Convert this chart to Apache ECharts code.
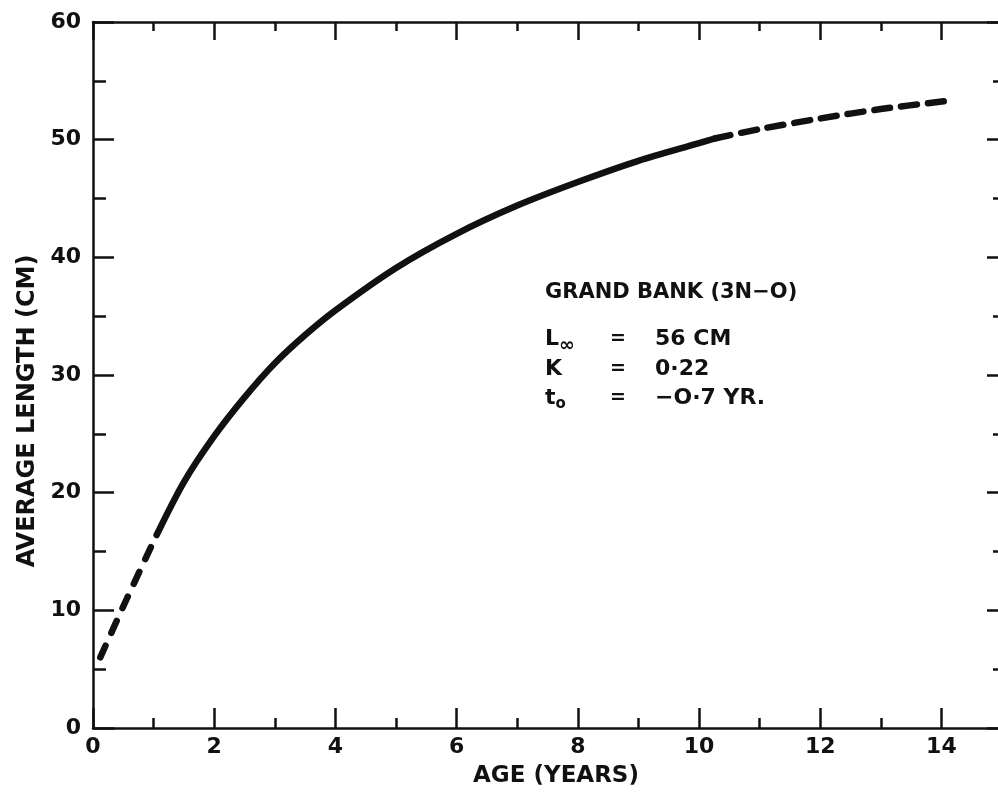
<!DOCTYPE html>
<html>
<head>
<meta charset="utf-8">
<script src="https://cdn.jsdelivr.net/npm/echarts@6/dist/echarts.min.js"></script>
<style>
  html, body { margin: 0; padding: 0; background: #fff; }
  #chart { width: 998px; height: 792px; }
</style>
</head>
<body>
<div id="chart"></div>
<script>
// growth curve, in three pieces (dashed / solid / dashed)
const startAge = [0.12, 0.55, 1.05];
const startLen = [6.0, 10.9, 16.4];
const solidAge = [1.05, 1.5, 2.0, 2.5, 3.0, 3.5, 4.0, 5.0, 6.0, 7.0, 8.0, 9.0, 10.0, 10.26];
const solidLen = [16.4, 20.9, 24.8, 28.1, 31.0, 33.4, 35.5, 39.1, 42.0, 44.4, 46.4, 48.2, 49.7, 50.1];
const endAge = [10.26, 11.0, 12.0, 13.0, 14.1];
const endLen = [50.1, 50.9, 51.8, 52.6, 53.3];

const xTicks = { min: 0, max: 15, interval: 2 };
const yTicks = { min: 0, max: 60, interval: 10 };

const ink = '#111';
const font = 'DejaVu Sans';

const pairs = (xs, ys) => xs.map((x, i) => [x, ys[i]]);

function axisStyle(major, minor, extra) {
    return Object.assign({
        type: 'value',
        axisLine: { show: true, onZero: false, lineStyle: { color: ink, width: 2.5 } },
        axisTick: { show: true, inside: true, length: major, lineStyle: { color: ink, width: 2.5 } },
        minorTick: { show: true, splitNumber: 2, length: minor, lineStyle: { color: ink, width: 2.5 } },
        splitLine: { show: false },
        minorSplitLine: { show: false },
        axisLabel: { show: false }
    }, extra);
}

const label = {
    show: true,
    color: ink,
    fontFamily: font,
    fontWeight: 'bold',
    fontSize: 22,
    showMaxLabel: false
};

const lineBase = { color: ink, width: 6.5, cap: 'round', join: 'round' };

const option = {
    animation: false,
    backgroundColor: '#fff',
    grid: { left: 93, top: 22, width: 909, height: 706, outerBoundsMode: 'none', containLabel: false },
    xAxis: [
        axisStyle(20, 10, Object.assign({ position: 'bottom', axisLabel: Object.assign({}, label, { margin: 8 }) }, xTicks)),
        axisStyle(18, 9, Object.assign({ position: 'top' }, xTicks))
    ],
    yAxis: [
        axisStyle(21, 13, Object.assign({ position: 'left', axisLabel: Object.assign({}, label, { margin: 12, showMaxLabel: true }) }, yTicks)),
        axisStyle(15, 9, Object.assign({ position: 'right' }, yTicks))
    ],
    series: [
        {
            type: 'line', smooth: 0.3, symbol: 'none',
            data: pairs(startAge, startLen),
            lineStyle: Object.assign({}, lineBase, { type: [13, 14] })
        },
        {
            type: 'line', smooth: 0.3, symbol: 'none',
            data: pairs(solidAge, solidLen),
            lineStyle: Object.assign({}, lineBase, { type: 'solid' })
        },
        {
            type: 'line', smooth: 0.3, symbol: 'none',
            data: pairs(endAge, endLen),
            lineStyle: Object.assign({}, lineBase, { type: [16, 11] })
        }
    ],
    graphic: [
        {
            type: 'text', x: 556, y: 776,
            style: { text: 'AGE (YEARS)', fill: ink, font: 'bold 23px ' + font, align: 'center', verticalAlign: 'middle' }
        },
        {
            type: 'text', x: 28, y: 411, rotation: Math.PI / 2,
            style: { text: 'AVERAGE LENGTH (CM)', fill: ink, font: 'bold 24px ' + font, align: 'center', verticalAlign: 'middle' }
        },
        {
            type: 'text', x: 545, y: 293,
            style: { text: 'GRAND BANK (3N\u2212O)', fill: ink, font: 'bold 21px ' + font, verticalAlign: 'middle' }
        },
        {
            type: 'text', x: 545, y: 339,
            style: {
                text: '{m|L}{s|\u221E}', verticalAlign: 'middle',
                rich: {
                    m: { fill: ink, fontFamily: font, fontWeight: 'bold', fontSize: 22 },
                    s: { fill: ink, fontFamily: font, fontWeight: 'bold', fontSize: 19, padding: [14, 0, 0, 0] }
                }
            }
        },
        {
            type: 'text', x: 545, y: 369,
            style: { text: 'K', fill: ink, font: 'bold 22px ' + font, verticalAlign: 'middle' }
        },
        {
            type: 'text', x: 545, y: 398,
            style: {
                text: '{m|t}{s|o}', verticalAlign: 'middle',
                rich: {
                    m: { fill: ink, fontFamily: font, fontWeight: 'bold', fontSize: 22 },
                    s: { fill: ink, fontFamily: font, fontWeight: 'bold', fontSize: 15, padding: [12, 0, 0, 0] }
                }
            }
        },
        { type: 'text', x: 610, y: 339, style: { text: '=', fill: ink, font: 'bold 19px ' + font, verticalAlign: 'middle' } },
        { type: 'text', x: 610, y: 369, style: { text: '=', fill: ink, font: 'bold 19px ' + font, verticalAlign: 'middle' } },
        { type: 'text', x: 610, y: 398, style: { text: '=', fill: ink, font: 'bold 19px ' + font, verticalAlign: 'middle' } },
        { type: 'text', x: 655, y: 339, style: { text: '56 CM', fill: ink, font: 'bold 22px ' + font, verticalAlign: 'middle' } },
        { type: 'text', x: 655, y: 369, style: { text: '0\u00B722', fill: ink, font: 'bold 22px ' + font, verticalAlign: 'middle' } },
        { type: 'text', x: 655, y: 398, style: { text: '\u2212O\u00B77 YR.', fill: ink, font: 'bold 22px ' + font, verticalAlign: 'middle' } }
    ]
};

const chart = echarts.init(document.getElementById('chart'));
chart.setOption(option);
</script>
</body>
</html>
